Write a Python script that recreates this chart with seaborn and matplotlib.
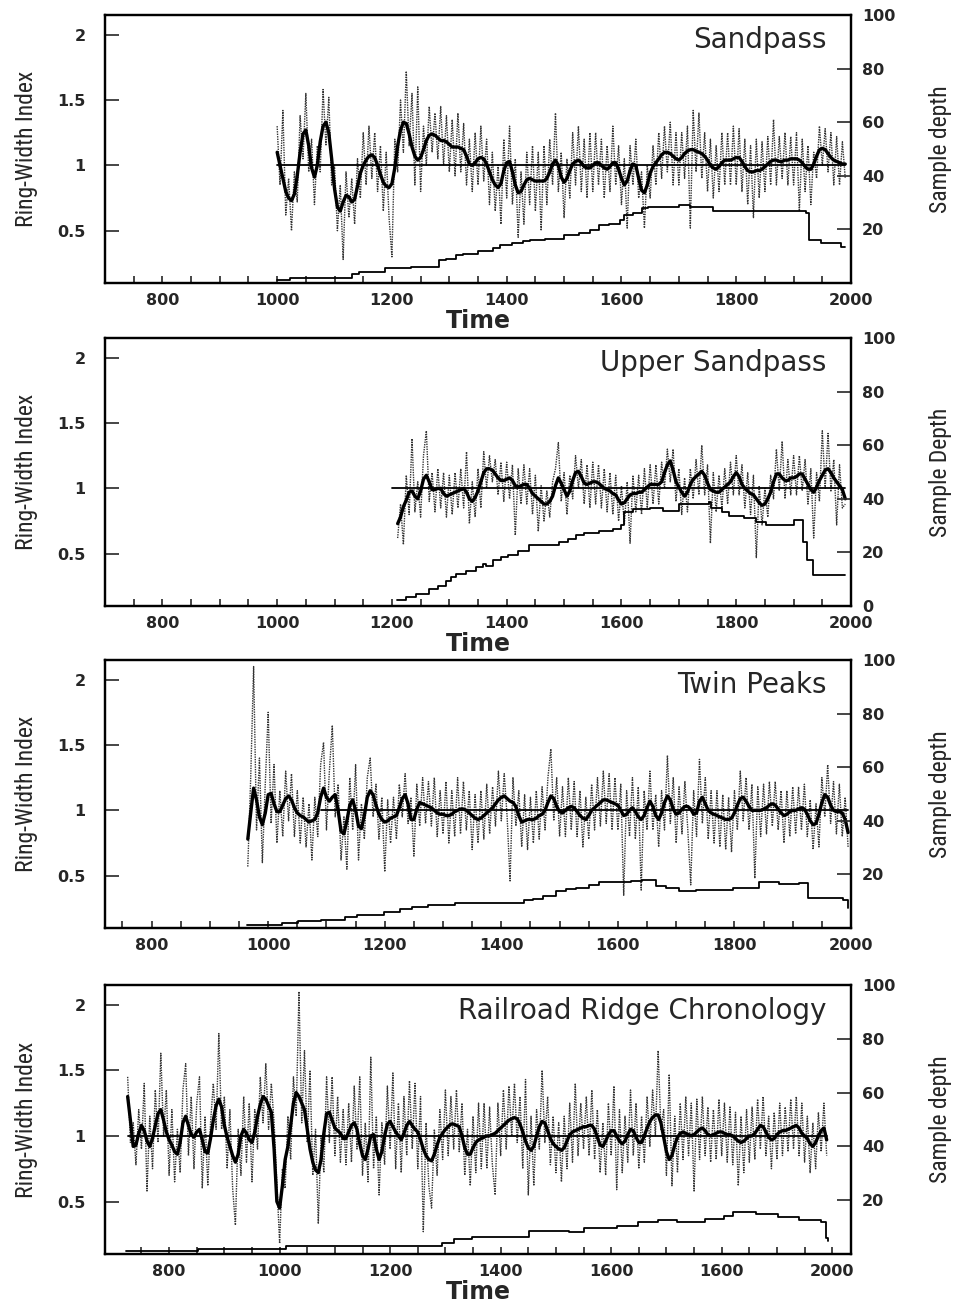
import numpy as np
import pandas as pd
import matplotlib
matplotlib.use('Agg')
import matplotlib.pyplot as plt
from matplotlib import font_manager
import seaborn as sns

# ---------------- data ----------------
# ring-width index every 5 years (raw = dotted series, smooth = thick line)

# Sandpass
sand_start = 1000
sand_raw = [1.30, 0.85, 1.42, 0.62, 0.90, 0.50, 0.95, 0.72, 1.38, 1.05,
            1.55, 0.95, 1.20, 0.70, 1.15, 0.95, 1.58, 1.15, 1.52, 0.85,
            1.00, 0.50, 0.85, 0.28, 0.95, 0.60, 0.90, 0.55, 1.05, 0.75,
            1.25, 0.85, 1.30, 0.90, 1.25, 0.80, 1.15, 0.65, 1.10, 0.60,
            0.30, 1.20, 0.95, 1.50, 1.10, 1.72, 1.15, 1.55, 0.85, 1.60,
            0.80, 1.30, 1.00, 1.45, 1.10, 1.40, 1.05, 1.45, 1.00, 1.38,
            0.95, 1.35, 0.92, 1.40, 0.95, 1.32, 0.85, 1.20, 0.80, 1.25,
            0.85, 1.30, 0.88, 1.20, 0.70, 1.10, 0.65, 1.00, 0.55, 1.20,
            0.75, 1.30, 0.70, 1.05, 0.45, 0.95, 0.55, 1.10, 0.70, 1.15,
            0.65, 1.10, 0.50, 1.15, 0.70, 1.20, 0.85, 1.40, 0.80, 1.10,
            0.60, 1.05, 0.75, 1.25, 0.85, 1.30, 0.80, 1.20, 0.75, 1.25,
            0.80, 1.25, 0.85, 1.20, 0.75, 1.15, 0.80, 1.30, 0.85, 1.15,
            0.70, 1.05, 0.52, 1.15, 0.85, 1.20, 0.75, 0.95, 0.52, 1.00,
            0.75, 1.15, 0.85, 1.25, 0.90, 1.30, 0.95, 1.33, 0.85, 1.25,
            0.85, 1.25, 0.90, 1.30, 0.52, 1.42, 0.95, 1.40, 0.90, 1.25,
            0.80, 1.20, 0.75, 1.15, 0.80, 1.25, 0.85, 1.25, 0.85, 1.30,
            0.85, 1.28, 0.80, 1.20, 0.70, 1.15, 0.60, 1.20, 0.75, 1.18,
            0.80, 1.22, 0.85, 1.35, 0.85, 1.22, 0.90, 1.25, 0.85, 1.22,
            0.85, 1.25, 0.65, 1.20, 0.80, 1.15, 0.70, 1.10, 0.90, 1.30,
            1.00, 1.28, 0.95, 1.25, 0.85, 1.22, 0.85, 1.18, 0.90]
sand_smooth = [1.10, 1.00, 0.90, 0.80, 0.75, 0.73, 0.78, 0.92, 1.10, 1.24,
               1.27, 1.15, 0.98, 0.91, 1.00, 1.18, 1.30, 1.33, 1.25, 1.05,
               0.82, 0.68, 0.65, 0.72, 0.77, 0.76, 0.72, 0.74, 0.84, 0.94,
               1.00, 1.04, 1.07, 1.08, 1.06, 1.00, 0.93, 0.87, 0.84, 0.83,
               0.86, 0.98, 1.15, 1.27, 1.33, 1.32, 1.24, 1.14, 1.07, 1.04,
               1.06, 1.12, 1.19, 1.23, 1.24, 1.23, 1.21, 1.19, 1.19, 1.18,
               1.16, 1.14, 1.14, 1.14, 1.13, 1.12, 1.07, 1.01, 1.00, 1.02,
               1.05, 1.06, 1.05, 1.01, 0.95, 0.89, 0.85, 0.83, 0.86, 0.96,
               1.02, 1.03, 0.95, 0.85, 0.79, 0.80, 0.85, 0.89, 0.90, 0.89,
               0.88, 0.88, 0.88, 0.88, 0.90, 0.95, 1.01, 1.04, 1.00, 0.91,
               0.87, 0.90, 0.96, 1.01, 1.03, 1.04, 1.02, 0.99, 0.98, 0.98,
               1.00, 1.02, 1.02, 1.00, 0.98, 0.97, 0.99, 1.02, 1.02, 0.97,
               0.90, 0.85, 0.88, 0.96, 1.01, 1.00, 0.90, 0.81, 0.79, 0.85,
               0.94, 0.99, 1.02, 1.05, 1.08, 1.10, 1.10, 1.09, 1.07, 1.05,
               1.04, 1.06, 1.09, 1.11, 1.12, 1.12, 1.11, 1.10, 1.09, 1.07,
               1.04, 1.00, 0.98, 0.97, 0.99, 1.02, 1.04, 1.04, 1.04, 1.05,
               1.06, 1.06, 1.03, 0.99, 0.96, 0.95, 0.95, 0.96, 0.96, 0.97,
               0.99, 1.01, 1.03, 1.04, 1.04, 1.03, 1.03, 1.04, 1.04, 1.05,
               1.05, 1.05, 1.04, 1.02, 0.99, 0.97, 0.97, 1.01, 1.07, 1.12,
               1.13, 1.12, 1.09, 1.06, 1.04, 1.03, 1.02, 1.01, 1.01]
sand_depth_years = [1000, 1023, 1130, 1143, 1188, 1234, 1282, 1295, 1311, 1324,
                    1350, 1376, 1389, 1409, 1428, 1441, 1467, 1500, 1526, 1545,
                    1561, 1578, 1597, 1604, 1620, 1636, 1646, 1701, 1720, 1759,
                    1922, 1927, 1948, 1982, 1990]
sand_depth = [1, 2, 3.5, 4, 5.5, 6, 8.5, 9, 10.5, 11,
              12, 13, 14, 15, 15.5, 16, 16.5, 18, 18.7, 19.7,
              21.5, 22, 23.5, 25.5, 26, 28, 28.5, 29, 28.5, 27,
              26, 16, 15, 13.5, 13.5]

# Upper Sandpass
upper_start = 1210
upper_raw = [0.62, 0.88, 0.57, 1.10, 0.80, 1.38, 0.82, 1.05, 0.78, 1.25,
             1.44, 0.90, 1.12, 0.82, 1.15, 0.85, 1.12, 0.78, 1.10, 0.80,
             1.12, 0.85, 1.15, 0.85, 1.28, 0.73, 1.05, 0.78, 1.15, 0.85,
             1.28, 1.00, 1.25, 1.05, 1.22, 0.95, 1.20, 0.90, 1.20, 0.92,
             1.18, 0.64, 1.15, 0.88, 1.18, 0.88, 1.15, 0.80, 1.10, 0.67,
             1.02, 0.75, 0.98, 0.78, 1.05, 1.15, 1.35, 0.90, 1.12, 0.80,
             1.10, 0.92, 1.25, 1.00, 1.22, 0.88, 1.18, 0.85, 1.20, 0.88,
             1.18, 0.85, 1.15, 0.82, 1.12, 0.80, 1.10, 0.75, 1.02, 0.72,
             1.05, 0.58, 1.10, 0.82, 1.10, 0.80, 1.15, 0.85, 1.18, 0.88,
             1.18, 0.88, 1.20, 1.00, 1.30, 1.05, 1.30, 0.90, 1.15, 0.80,
             1.08, 0.82, 1.15, 0.92, 1.22, 0.95, 1.33, 0.95, 1.18, 0.58,
             1.12, 0.82, 1.10, 0.85, 1.15, 0.88, 1.20, 0.95, 1.25, 0.95,
             1.18, 0.85, 1.12, 0.80, 1.10, 0.47, 1.02, 0.72, 1.00, 0.78,
             1.10, 0.92, 1.30, 0.98, 1.36, 0.92, 1.22, 0.95, 1.25, 0.95,
             1.25, 0.98, 1.22, 0.88, 1.15, 0.62, 1.12, 0.90, 1.44, 1.00,
             1.42, 0.98, 1.22, 0.72, 1.18, 0.85, 0.88]
upper_smooth = [0.73, 0.78, 0.86, 0.91, 0.97, 0.98, 0.94, 0.92, 0.98, 1.07,
                1.10, 1.05, 0.99, 0.99, 1.00, 1.00, 0.96, 0.94, 0.95, 0.96,
                0.97, 0.98, 0.99, 1.00, 0.97, 0.92, 0.90, 0.93, 0.98, 1.05,
                1.12, 1.15, 1.15, 1.14, 1.11, 1.08, 1.06, 1.06, 1.07, 1.08,
                1.06, 1.02, 1.01, 1.02, 1.03, 1.03, 1.00, 0.96, 0.94, 0.92,
                0.90, 0.88, 0.88, 0.90, 0.94, 1.02, 1.08, 1.04, 0.99, 0.94,
                0.98, 1.06, 1.12, 1.13, 1.09, 1.04, 1.03, 1.04, 1.05, 1.05,
                1.04, 1.02, 1.00, 0.99, 0.98, 0.96, 0.95, 0.91, 0.88, 0.89,
                0.92, 0.95, 0.96, 0.96, 0.97, 0.97, 0.99, 1.01, 1.03, 1.03,
                1.03, 1.03, 1.05, 1.12, 1.18, 1.21, 1.14, 1.05, 1.01, 0.97,
                0.94, 0.97, 1.03, 1.07, 1.09, 1.11, 1.13, 1.10, 1.04, 0.99,
                0.98, 0.97, 0.97, 0.99, 1.01, 1.03, 1.05, 1.09, 1.12, 1.09,
                1.03, 1.00, 0.98, 0.96, 0.95, 0.92, 0.89, 0.87, 0.88, 0.92,
                0.97, 1.05, 1.11, 1.11, 1.08, 1.06, 1.06, 1.08, 1.08, 1.09,
                1.11, 1.11, 1.07, 1.03, 0.99, 0.97, 1.01, 1.06, 1.10, 1.14,
                1.15, 1.12, 1.08, 1.05, 1.02, 0.99, 0.92]
upper_depth_years = [1208, 1225, 1242, 1265, 1280, 1294, 1303, 1312, 1329, 1347,
                     1358, 1364, 1376, 1390, 1402, 1419, 1439, 1492, 1506, 1521,
                     1535, 1561, 1585, 1599, 1605, 1620, 1649, 1672, 1701, 1753,
                     1756, 1776, 1788, 1814, 1834, 1852, 1901, 1916, 1924, 1933,
                     1990]
upper_depth = [2.4, 3.2, 4.5, 6.4, 7.6, 9.5, 10.7, 12, 13.2, 14.5,
               15.7, 15, 17, 18.2, 18.9, 20.7, 22.6, 23.9, 25.1, 26.4,
               27.4, 27.9, 28.9, 30.2, 35.2, 36.2, 36.7, 35.4, 37.9, 38.7,
               36.7, 34.9, 33.7, 32.9, 31.4, 30.4, 32, 24, 17, 11.4,
               11.4]

# Twin Peaks
twin_start = 965
twin_raw = [0.57, 1.25, 2.10, 0.85, 1.40, 0.60, 1.20, 1.75, 0.90, 1.35,
            0.75, 1.15, 0.80, 1.30, 0.92, 1.28, 0.80, 1.15, 0.75, 1.10,
            0.72, 1.05, 0.62, 1.10, 0.80, 1.35, 1.52, 0.85, 1.30, 1.65,
            0.95, 1.20, 0.62, 0.95, 0.55, 1.25, 0.85, 1.35, 0.62, 1.05,
            0.78, 1.25, 1.40, 0.95, 1.20, 0.78, 1.10, 0.53, 1.08, 0.75,
            1.10, 0.78, 1.20, 0.95, 1.28, 0.90, 1.10, 0.65, 1.20, 0.88,
            1.25, 0.90, 1.22, 0.88, 1.25, 0.80, 1.15, 0.82, 1.22, 0.75,
            1.15, 0.80, 1.25, 0.82, 1.22, 0.85, 1.15, 0.70, 1.12, 0.75,
            1.15, 0.78, 1.20, 0.82, 1.18, 0.88, 1.30, 0.92, 1.28, 0.95,
            0.46, 1.25, 0.88, 1.15, 0.72, 1.12, 0.70, 1.10, 0.75, 1.15,
            0.78, 1.18, 0.85, 1.25, 1.47, 0.92, 1.25, 0.80, 1.18, 0.80,
            1.25, 0.85, 1.22, 0.80, 1.15, 0.72, 1.10, 0.78, 1.20, 0.85,
            1.25, 0.88, 1.30, 0.90, 1.28, 0.85, 1.25, 0.85, 1.20, 0.35,
            1.15, 0.80, 1.25, 0.78, 1.18, 0.39, 1.15, 0.85, 1.30, 0.85,
            1.12, 0.72, 1.15, 0.85, 1.42, 0.90, 1.25, 0.75, 1.18, 0.82,
            1.22, 0.85, 0.43, 1.15, 0.80, 1.39, 0.90, 1.25, 0.78, 1.15,
            0.75, 1.15, 0.72, 1.12, 0.70, 1.10, 0.68, 1.15, 0.85, 1.30,
            0.92, 1.25, 0.85, 1.20, 0.48, 1.18, 0.80, 1.20, 0.82, 1.22,
            0.88, 1.22, 0.85, 1.15, 0.75, 1.15, 0.80, 1.18, 0.82, 1.18,
            0.85, 1.20, 0.80, 1.08, 0.70, 1.05, 0.72, 1.25, 0.95, 1.35,
            0.90, 1.22, 0.82, 1.20, 0.80, 1.10, 0.72]
twin_smooth = [0.78, 0.98, 1.17, 1.08, 0.95, 0.89, 0.98, 1.12, 1.13, 1.05,
               0.99, 0.99, 1.04, 1.09, 1.11, 1.08, 1.02, 0.98, 0.96, 0.95,
               0.93, 0.91, 0.92, 0.93, 0.98, 1.10, 1.17, 1.10, 1.07, 1.10,
               1.12, 1.00, 0.84, 0.82, 0.92, 1.04, 1.08, 1.00, 0.88, 0.86,
               0.96, 1.10, 1.15, 1.12, 1.04, 0.97, 0.93, 0.91, 0.92, 0.94,
               0.95, 0.96, 1.02, 1.09, 1.12, 1.05, 0.93, 0.93, 1.01, 1.06,
               1.05, 1.04, 1.03, 1.02, 1.00, 0.98, 0.97, 0.97, 0.96, 0.96,
               0.97, 0.99, 1.00, 1.01, 1.01, 1.00, 0.98, 0.96, 0.94, 0.93,
               0.94, 0.96, 0.98, 1.00, 1.02, 1.05, 1.08, 1.10, 1.11, 1.09,
               1.07, 1.06, 1.03, 0.96, 0.91, 0.92, 0.93, 0.93, 0.93, 0.94,
               0.96, 0.97, 1.00, 1.06, 1.11, 1.09, 1.03, 0.99, 0.98, 1.00,
               1.02, 1.03, 1.02, 0.99, 0.96, 0.94, 0.93, 0.96, 1.00, 1.02,
               1.04, 1.06, 1.08, 1.08, 1.07, 1.06, 1.05, 1.04, 1.00, 0.96,
               0.97, 1.00, 1.02, 0.99, 0.95, 0.93, 0.96, 1.02, 1.07, 1.03,
               0.96, 0.93, 0.98, 1.06, 1.11, 1.08, 1.01, 0.97, 0.98, 1.01,
               1.03, 1.03, 1.01, 0.97, 0.98, 1.07, 1.10, 1.05, 1.00, 0.98,
               0.97, 0.96, 0.95, 0.94, 0.93, 0.93, 0.94, 0.98, 1.04, 1.09,
               1.10, 1.07, 1.03, 1.00, 1.00, 1.00, 1.00, 1.01, 1.02, 1.04,
               1.05, 1.04, 1.01, 0.98, 0.96, 0.97, 0.99, 1.00, 1.00, 1.01,
               1.02, 1.01, 0.97, 0.92, 0.89, 0.90, 0.97, 1.06, 1.12, 1.10,
               1.04, 1.00, 0.99, 0.99, 0.98, 0.93, 0.83]
twin_depth_years = [964, 1024, 1051, 1091, 1132, 1152, 1199, 1226, 1247, 1274,
                    1321, 1439, 1454, 1471, 1494, 1511, 1528, 1551, 1568, 1622,
                    1642, 1665, 1682, 1705, 1734, 1797, 1842, 1877, 1911, 1926,
                    1986, 1995]
twin_depth = [1, 2, 2.5, 3, 4, 5, 6, 7, 8, 8.5,
              9.2, 10.4, 11, 12, 13.7, 14.4, 15, 16, 17, 17.5,
              17.8, 15.6, 15, 13.7, 14.1, 15, 17.1, 16.6, 16.9, 11.3,
              10.6, 7.5]

# Railroad Ridge
rail_start = 725
rail_raw = [1.45, 0.95, 1.10, 0.78, 1.20, 0.90, 1.40, 0.58, 1.15, 0.75,
            1.35, 0.95, 1.63, 1.00, 1.35, 0.70, 1.20, 0.65, 1.05, 0.72,
            1.35, 1.55, 0.85, 1.30, 0.75, 1.25, 1.45, 0.60, 1.15, 0.62,
            1.10, 1.40, 1.05, 1.78, 1.05, 1.30, 0.75, 1.20, 0.60, 0.32,
            1.05, 0.70, 1.30, 0.80, 1.25, 0.65, 1.20, 0.90, 1.45, 1.10,
            1.55, 1.05, 1.40, 1.10, 0.65, 0.18, 0.75, 0.60, 1.15, 0.82,
            1.45, 1.15, 2.10, 1.10, 1.65, 0.95, 1.50, 0.70, 1.05, 0.33,
            1.00, 0.72, 1.45, 0.95, 1.45, 0.85, 1.30, 0.80, 1.20, 0.78,
            1.25, 0.80, 1.38, 0.90, 1.45, 0.70, 1.10, 0.65, 1.60, 0.75,
            1.15, 0.55, 1.10, 0.78, 1.38, 0.90, 1.48, 0.75, 1.25, 0.72,
            1.30, 0.85, 1.42, 0.90, 1.40, 0.75, 1.30, 0.27, 1.10, 0.62,
            0.45, 1.05, 0.70, 1.20, 0.82, 1.35, 0.85, 1.30, 0.90, 1.35,
            0.88, 1.25, 0.70, 1.05, 0.62, 1.15, 0.72, 1.25, 0.75, 1.25,
            0.75, 1.22, 0.78, 0.55, 1.25, 0.85, 1.35, 0.90, 1.38, 1.00,
            1.40, 0.95, 1.30, 0.75, 1.43, 0.55, 1.15, 0.62, 1.20, 0.90,
            1.50, 0.95, 1.30, 0.78, 1.15, 0.72, 1.10, 0.65, 1.15, 0.75,
            1.25, 0.80, 1.40, 0.85, 1.25, 0.90, 1.30, 0.85, 1.35, 0.82,
            1.20, 0.72, 1.10, 0.70, 1.25, 0.85, 1.38, 0.59, 1.20, 0.72,
            1.15, 0.80, 1.35, 0.85, 1.25, 0.75, 1.15, 0.80, 1.30, 0.92,
            1.35, 1.00, 1.65, 1.05, 1.20, 0.70, 1.47, 0.62, 1.15, 0.72,
            1.25, 0.82, 1.30, 0.85, 1.25, 0.58, 1.28, 0.82, 1.30, 0.85,
            1.22, 0.80, 1.20, 0.82, 1.28, 0.85, 1.25, 0.80, 1.22, 0.78,
            1.18, 0.62, 1.15, 0.72, 1.20, 0.80, 1.22, 0.82, 1.28, 0.90,
            1.30, 0.85, 1.15, 0.75, 1.18, 0.82, 1.25, 0.85, 1.22, 0.88,
            1.28, 0.90, 1.30, 0.85, 1.25, 0.80, 1.15, 0.72, 1.10, 0.75,
            1.18, 0.88, 1.25, 0.85]
rail_smooth = [1.30, 1.12, 0.92, 0.93, 1.02, 1.08, 1.04, 0.96, 0.92, 0.98,
               1.08, 1.17, 1.20, 1.12, 1.03, 0.97, 0.93, 0.88, 0.86, 0.95,
               1.10, 1.15, 1.08, 1.01, 0.99, 1.03, 1.05, 0.97, 0.88, 0.87,
               0.98, 1.12, 1.23, 1.28, 1.22, 1.08, 0.99, 0.92, 0.85, 0.80,
               0.86, 1.00, 1.05, 1.02, 0.97, 0.95, 1.03, 1.15, 1.24, 1.30,
               1.28, 1.23, 1.18, 0.90, 0.50, 0.45, 0.62, 0.82, 0.92, 1.08,
               1.25, 1.33, 1.30, 1.25, 1.20, 1.05, 0.90, 0.80, 0.74, 0.72,
               0.82, 1.02, 1.17, 1.18, 1.12, 1.06, 1.04, 1.02, 0.98, 0.98,
               1.03, 1.08, 1.10, 1.05, 0.94, 0.85, 0.82, 0.90, 1.00, 1.01,
               0.90, 0.82, 0.88, 1.00, 1.09, 1.11, 1.07, 1.03, 1.00, 0.97,
               1.02, 1.08, 1.11, 1.08, 1.05, 1.03, 0.97, 0.90, 0.85, 0.82,
               0.81, 0.86, 0.93, 0.99, 1.02, 1.05, 1.07, 1.09, 1.09, 1.08,
               1.07, 1.00, 0.91, 0.86, 0.86, 0.91, 0.95, 0.97, 0.98, 0.99,
               1.00, 1.00, 1.01, 1.02, 1.04, 1.06, 1.08, 1.10, 1.12, 1.13,
               1.14, 1.13, 1.09, 1.03, 0.96, 0.91, 0.89, 0.92, 1.00, 1.07,
               1.11, 1.10, 1.04, 0.98, 0.94, 0.92, 0.90, 0.89, 0.91, 0.96,
               1.01, 1.03, 1.04, 1.05, 1.06, 1.07, 1.07, 1.08, 1.08, 1.05,
               0.99, 0.93, 0.92, 0.96, 1.01, 1.04, 1.04, 1.00, 0.96, 0.94,
               0.96, 1.01, 1.05, 1.04, 0.99, 0.95, 0.95, 1.00, 1.06, 1.11,
               1.14, 1.16, 1.16, 1.10, 0.99, 0.88, 0.82, 0.85, 0.93, 0.99,
               1.02, 1.03, 1.02, 1.01, 1.00, 1.01, 1.03, 1.05, 1.06, 1.04,
               1.01, 1.00, 1.01, 1.02, 1.03, 1.03, 1.02, 1.01, 1.01, 1.00,
               0.98, 0.96, 0.95, 0.96, 0.98, 1.00, 1.00, 1.02, 1.05, 1.08,
               1.07, 1.03, 0.99, 0.97, 0.98, 1.01, 1.03, 1.04, 1.04, 1.05,
               1.06, 1.07, 1.08, 1.06, 1.02, 1.00, 0.98, 0.94, 0.92, 0.95,
               1.00, 1.04, 1.06, 0.97]
rail_depth_years = [722, 852, 1011, 1294, 1315, 1348, 1451, 1524, 1551, 1611,
                    1648, 1684, 1720, 1769, 1805, 1820, 1862, 1901, 1940, 1980,
                    1988, 1992]
rail_depth = [1, 2, 3, 4, 5.5, 6.5, 8.5, 8, 9.8, 10.5,
              11.8, 12.7, 11.8, 13, 14, 15.5, 14.8, 13.6, 12.7, 12,
              6, 5]

# labels
titles = ['Sandpass', 'Upper Sandpass', 'Twin Peaks', 'Railroad Ridge Chronology']
depth_labels = ['Sample depth', 'Sample Depth', 'Sample depth', 'Sample depth']
year_ticks = [800, 1000, 1200, 1400, 1600, 1800, 2000]
year_labels = ['800', '1000', '1200', '1400', '1600', '1800', '2000']
rail_year_labels = ['800', '1000', '1200', '1400', '1600', '1600', '2000']
index_ticks = [0.5, 1, 1.5, 2]
index_labels = ['0.5', '1', '1.5', '2']
depth_ticks = [20, 40, 60, 80, 100]
depth_ticks_zero = [0, 20, 40, 60, 80, 100]

# ---------------- plotting ----------------
sns.set_style('ticks')
plt.rcParams['font.family'] = ['DejaVu Sans']
plt.rcParams['axes.linewidth'] = 1.6

# pick a condensed face for the axis titles if one is installed
fonts = font_manager.fontManager.ttflist
names = {f.name for f in fonts}
if 'Liberation Sans Narrow' in names:
    label_font = dict(family='Liberation Sans Narrow', fontsize=18)
elif 'Roboto Condensed' in names:
    label_font = dict(family='Roboto Condensed', fontsize=17)
elif any(f.name == 'DejaVu Sans' and 'condensed' in str(f.stretch) for f in fonts):
    label_font = dict(family='DejaVu Sans', fontstretch='condensed', fontsize=16)
else:
    label_font = dict(family='Roboto', fontsize=16)

W, H = 959, 1303
fig = plt.figure(figsize=(W / 100, H / 100), dpi=100)


def draw_panel(box, start, raw, smooth, hline_span, d_years, d_vals, title,
               xlim, xlabels, dlabel, dticks, show_time):
    left, top, right, bottom = box
    ax = fig.add_axes([left / W, 1 - bottom / H, (right - left) / W, (bottom - top) / H])

    yr_raw = np.arange(start, start + 5 * len(raw), 5)
    yr_smooth = np.arange(start, start + 5 * len(smooth), 5)
    df = pd.DataFrame({'year': yr_raw, 'index': raw})
    ds = pd.DataFrame({'year': yr_smooth, 'index': smooth})

    sns.lineplot(data=df, x='year', y='index', ax=ax, color='0.2', lw=1.0,
                 linestyle=(0, (1, 0.8)), estimator=None, sort=False)
    ax.plot(hline_span, [1, 1], color='black', lw=1.3)
    sns.lineplot(data=ds, x='year', y='index', ax=ax, color='black', lw=2.4,
                 estimator=None, sort=False)

    ax.set_xlim(*xlim)
    ax.set_ylim(0.1, 2.15)
    ax.set_xticks(year_ticks)
    ax.set_xticklabels(xlabels, fontsize=11.5, fontweight='bold')
    ax.set_xticks(np.arange(750, 2001, 50), minor=True)
    ax.set_yticks(index_ticks)
    ax.set_yticklabels(index_labels, fontsize=11.5, fontweight='bold')
    ax.tick_params(axis='x', which='both', direction='in', length=5, width=1.2, pad=7)
    ax.tick_params(axis='y', direction='in', length=10, width=1.2, pad=14)
    ax.set_xlabel('')
    ax.set_ylabel('Ring-Width Index', **label_font)
    ax.yaxis.set_label_coords((38 - left) / (right - left), 0.5)

    ax2 = ax.twinx()
    dd = pd.DataFrame({'year': d_years, 'depth': d_vals})
    sns.lineplot(data=dd, x='year', y='depth', ax=ax2, color='black', lw=1.3,
                 drawstyle='steps-post', estimator=None, sort=False)
    ax2.set_ylim(0, 100)
    ax2.set_yticks(dticks)
    ax2.set_yticklabels([str(t) for t in dticks], fontsize=11.5, fontweight='bold')
    ax2.tick_params(axis='y', direction='in', length=10, width=1.2, pad=8)
    ax2.set_ylabel(dlabel, **label_font)
    ax2.yaxis.set_label_coords((929 - left) / (right - left), 0.5)
    ax2.set_xlabel('')

    for a in (ax, ax2):
        for s in a.spines.values():
            s.set_linewidth(1.6)
            s.set_color('black')

    ax.text(0.967, 0.905, title, transform=ax.transAxes, ha='right', va='center',
            fontsize=20)
    if show_time:
        fig.text((left + right) / 2 / W, 1 - (bottom + 38) / H, 'Time',
                 ha='center', va='center', fontsize=17, fontweight='bold')
    return ax


draw_panel((105, 15, 851, 283), sand_start, sand_raw, sand_smooth, [1000, 1990],
           sand_depth_years, sand_depth, titles[0], (700, 2000), year_labels,
           depth_labels[0], depth_ticks, True)
draw_panel((105, 338, 851, 606), upper_start, upper_raw, upper_smooth, [1200, 1990],
           upper_depth_years, upper_depth, titles[1], (700, 2000), year_labels,
           depth_labels[1], depth_ticks_zero, True)
draw_panel((105, 660, 851, 928), twin_start, twin_raw, twin_smooth, [1090, 1995],
           twin_depth_years, twin_depth, titles[2], (720, 2000), year_labels,
           depth_labels[2], depth_ticks, False)
draw_panel((105, 985, 851, 1254), rail_start, rail_raw, rail_smooth, [725, 1990],
           rail_depth_years, rail_depth, titles[3], (684, 2034), rail_year_labels,
           depth_labels[3], depth_ticks, True)

fig.savefig('out.png', dpi=100, facecolor='white')
